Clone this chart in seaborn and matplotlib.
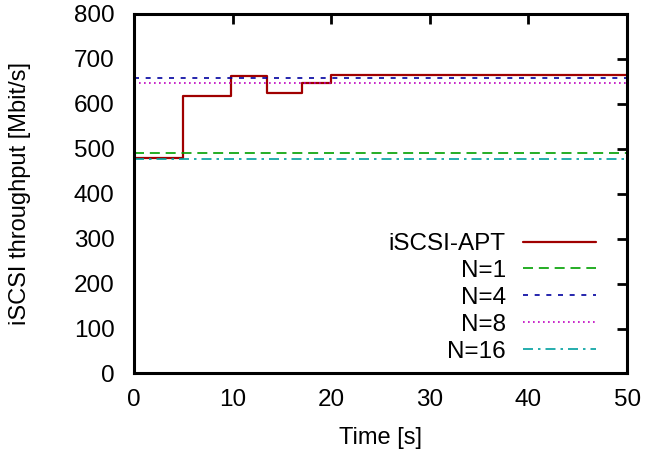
import numpy as np
import pandas as pd
import seaborn as sns
import matplotlib.pyplot as plt

# adaptive run (step function)
apt_time = [0, 5, 9.8, 13.5, 17, 20, 23, 50]
apt_tput = [479, 618, 662, 625, 646, 664, 665, 665]

# fixed N baselines
fixed_labels = ['N=1', 'N=4', 'N=8', 'N=16']
fixed_tput = [491, 658, 646, 477]
fixed_colors = ['#00a000', '#0000a0', '#c000c0', '#00a0a0']
fixed_dashes = [(6, 3.5), (3, 4), (1, 2), (6, 3, 1.5, 3)]

x_ticks = [0, 10, 20, 30, 40, 50]
y_ticks = [0, 100, 200, 300, 400, 500, 600, 700, 800]

sns.set_style('white')
plt.rcParams['font.family'] = ['Liberation Sans', 'DejaVu Sans']
plt.rcParams['text.color'] = 'black'
plt.rcParams['axes.labelcolor'] = 'black'
plt.rcParams['xtick.color'] = 'black'
plt.rcParams['ytick.color'] = 'black'

fig = plt.figure(figsize=(6.65, 4.59), dpi=100)
ax = fig.add_axes([0.2015, 0.1863, 0.7415, 0.7832])

apt_df = pd.DataFrame({'t': apt_time, 'v': apt_tput})
sns.lineplot(data=apt_df, x='t', y='v', ax=ax, drawstyle='steps-post',
             color='#a00000', linewidth=1.6, label='iSCSI-APT')

for lab, val, col, dsh in zip(fixed_labels, fixed_tput, fixed_colors, fixed_dashes):
    d = pd.DataFrame({'t': [0, 50], 'v': [val, val]})
    sns.lineplot(data=d, x='t', y='v', ax=ax, color=col, linewidth=1.2,
                 dashes=False, label=lab)
    ax.lines[-1].set_dashes(dsh)

ax.set_xlim(0, 50)
ax.set_ylim(0, 800)
ax.set_xticks(x_ticks)
ax.set_yticks(y_ticks)
ax.tick_params(direction='in', length=7, width=2, labelsize=17.5,
               top=True, right=True)
ax.tick_params(axis='y', pad=14)
ax.tick_params(axis='x', pad=11)
for s in ax.spines.values():
    s.set_linewidth(2.2)
    s.set_color('black')

ax.set_xlabel('Time [s]', fontsize=17)
ax.set_ylabel('iSCSI throughput [Mbit/s]', fontsize=17)
ax.xaxis.set_label_coords(0.5, -0.149)
ax.yaxis.set_label_coords(-0.209, 0.5)

leg = ax.legend(loc='lower right', bbox_to_anchor=(0.971, -0.017), frameon=False,
                markerfirst=False, fontsize=17.5, handlelength=3.0,
                labelspacing=0.2, handletextpad=0.7, borderaxespad=0.3)
for t in leg.get_texts():
    t.set_ha('right')

fig.savefig('out.png', dpi=100)
